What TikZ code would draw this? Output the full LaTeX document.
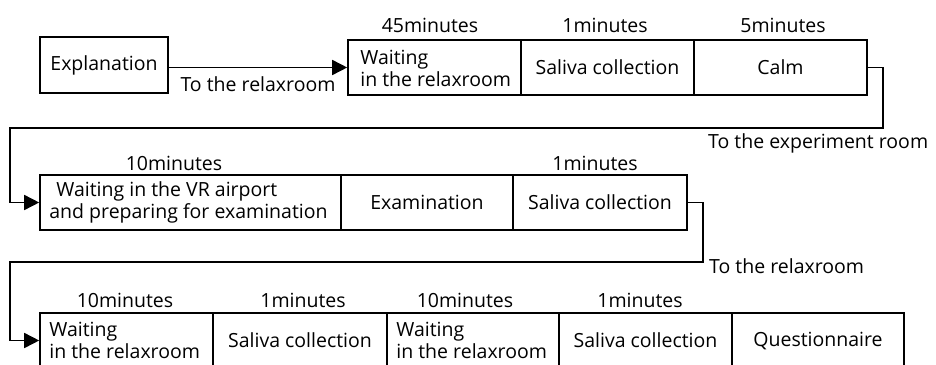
\documentclass[tikz,border=0pt]{standalone}
\usepackage{fontspec}
\setmainfont{Open Sans}
\usetikzlibrary{arrows.meta}
\newcommand\diafont{\fontsize{19.5}{22.5}\selectfont}
\begin{document}
\begin{tikzpicture}[x=1pt,y=-1pt,
  cell/.style={draw, line width=1.6pt, minimum height=55pt, inner sep=0pt, align=center, font=\diafont},
  txt/.style={anchor=west, align=left, inner sep=0pt, font=\diafont},
  lbl/.style={anchor=base, inner sep=0pt, font=\diafont},
  conn/.style={line width=1.6pt, -{Triangle[length=15pt,width=15pt]}}]
\useasboundingbox (0,0) rectangle (936,364);
\clip (0,0) rectangle (936,364);
% row 1
\node[cell, minimum width=128pt, minimum height=56pt] (expl) at (104,65) {Explanation};
\node[cell, minimum width=173pt] (w1) at (434.5,67.5) {};
\node[txt] (w1t) at ([xshift=13pt,yshift=-1pt]w1.west) {Waiting\\in the relaxroom};
\node[cell, minimum width=173pt] (s1) at (607.5,67.5) {Saliva collection};
\node[cell, minimum width=173pt] (calm) at (780.5,67.5) {Calm};
\node[lbl] (t1) at (430,32) {45minutes};
\node[lbl] (t2) at (605,32) {1minutes};
\node[lbl] (t3) at (783,32) {5minutes};
\draw[conn] (expl.east |- w1.west) -- (w1.west);
\node[lbl] (l1) at (258,91) {To the relaxroom};
% row 2
\node[cell, minimum width=301pt] (vr) at (190.5,202.5) {};
\node[txt] (vrt) at ([xshift=10pt]vr.west) {\hspace*{7pt}Waiting in the VR airport\\and preparing for examination};
\node[cell, minimum width=172pt] (exam) at (427,202.5) {Examination};
\node[cell, minimum width=174pt] (s2) at (600,202.5) {Saliva collection};
\node[lbl] (t4) at (174,170) {10minutes};
\node[lbl] (t5) at (595,170) {1minutes};
\coordinate (k1) at (883,128);
\coordinate (k2) at (10,128);
\draw[conn] (calm.east) -| (k1) -- (k2) |- (vr.west);
\node[lbl, anchor=base west] (l2) at (708,148) {To the experiment room};
% row 3
\node[cell, minimum width=173pt] (w3a) at (126.5,340.5) {};
\node[txt] (w3at) at ([xshift=10pt]w3a.west) {Waiting\\in the relaxroom};
\node[cell, minimum width=174pt] (s3a) at (300,340.5) {Saliva collection};
\node[cell, minimum width=172pt] (w3b) at (473,340.5) {};
\node[txt] (w3bt) at ([xshift=10pt]w3b.west) {Waiting\\in the relaxroom};
\node[cell, minimum width=173pt] (s3b) at (645.5,340.5) {Saliva collection};
\node[cell, minimum width=172pt] (quest) at (818,340.5) {Questionnaire};
\node[lbl] (t6) at (125,307) {10minutes};
\node[lbl] (t7) at (303,307) {1minutes};
\node[lbl] (t8) at (465,307) {10minutes};
\node[lbl] (t9) at (640,307) {1minutes};
\coordinate (k3) at (703,262);
\coordinate (k4) at (10,262);
\draw[conn] (s2.east) -| (k3) -- (k4) |- (w3a.west);
\node[lbl, anchor=base west] (l3) at (709,273) {To the relaxroom};
\end{tikzpicture}
\end{document}
